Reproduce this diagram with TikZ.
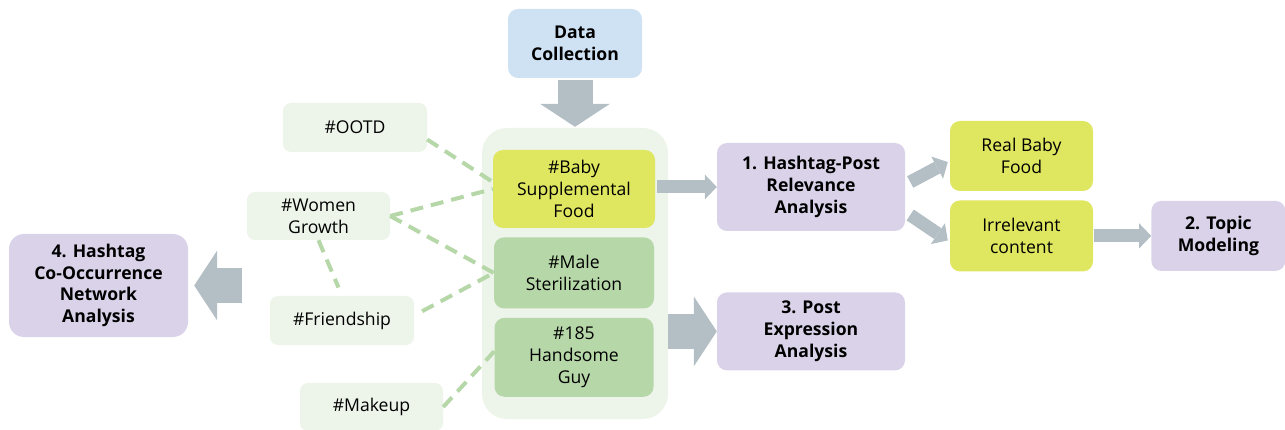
\documentclass[tikz,border=0pt]{standalone}
\usepackage{fontspec}
\setmainfont{Open Sans}
\usetikzlibrary{positioning, arrows.meta}

\definecolor{collectblue}{HTML}{CFE2F3}
\definecolor{babyyellow}{HTML}{DFE660}
\definecolor{tagsgreen}{HTML}{B6D7A8}
\definecolor{palegreen}{HTML}{EDF4EA}
\definecolor{stagepurple}{HTML}{D9D2E9}
\definecolor{arrowgray}{HTML}{B4BFC5}

\begin{document}
\begin{tikzpicture}[x=1pt, y=1pt,
        box/.style={rounded corners=10pt, inner sep=0pt, align=center,
            font=\fontsize{17.6}{21.8}\selectfont},
        stage/.style={box, fill=stagepurple, font=\fontsize{17.6}{21.8}\selectfont\bfseries},
        hashtag/.style={box, fill=tagsgreen},
        outcome/.style={box, fill=babyyellow, minimum width=143pt, minimum height=70pt},
        cotag/.style={box, fill=palegreen, rounded corners=8pt, minimum width=144pt, minimum height=49pt},
        shaft/.style={arrowgray, line width=13pt, -{Triangle[length=12pt, width=25pt, line width=0pt]}},
        bigshaft/.style={arrowgray, line width=35pt, -{Triangle[length=23pt, width=70pt, line width=0pt]}},
        cooccur/.style={tagsgreen, line width=4pt, dash pattern=on 13pt off 8pt}]
        \useasboundingbox (0,0) rectangle (1285,-430);
        % hashtag pool
        \node[box, fill=palegreen, rounded corners=25pt, minimum width=186pt, minimum height=291pt] (pool) at (575,-273.5) {};
        \node[box, fill=collectblue, font=\fontsize{17.6}{21.8}\selectfont\bfseries, minimum width=134pt, minimum height=69pt] (data) at (575,-43.5) {Data\\Collection};
        \node[hashtag, fill=babyyellow, minimum width=162pt, minimum height=78pt] (baby) at (574,-189) {\#Baby\\Supplemental\\Food};
        \node[hashtag, minimum width=160pt, minimum height=71pt] (male) [below=9pt of baby] {\#Male\\Sterilization};
        \node[hashtag, minimum width=159pt, minimum height=79pt] (h185) [below=9pt of male] {\#185\\Handsome\\Guy};
        % analysis stages
        \node[stage, minimum width=188pt, minimum height=88pt] (hp) at (811,-187) {1. Hashtag-Post\\Relevance\\Analysis};
        \node[stage, minimum width=188pt, minimum height=78pt] (pe) [below=61pt of hp] {3. Post\\Expression\\Analysis};
        \node[outcome] (real) at (1021.5,-156) {Real Baby\\Food};
        \node[outcome, minimum height=71pt] (irr) [below=9pt of real] {Irrelevant\\content};
        \node[stage, minimum width=134pt, minimum height=70pt] (topic) [right=58pt of irr] {2. Topic\\Modeling};
        \node[stage, rounded corners=15pt, minimum width=179pt, minimum height=103pt] (net) at (98.5,-285.5) {4. Hashtag\\Co-Occurrence\\Network\\Analysis};
        % co-occurring hashtags
        \node[cotag] (ootd) at (355,-127.5) {\#OOTD};
        \node[cotag, minimum width=143pt, minimum height=48pt] (women) at (318.5,-216) {\#Women\\Growth};
        \node[cotag] (friend) at (342,-320.5) {\#Friendship};
        \node[cotag, minimum width=143pt, minimum height=48pt] (makeup) at (371.5,-407) {\#Makeup};
        \coordinate (netin) at (242,-285.5);
        \path[shaft]
                (baby.east |- hp.west) edge [shorten <=2pt] (hp.west)
                ([shift={(5,5)}]hp.east) edge ([shift={(-2,-6)}]real.west)
                ([shift={(5,-28)}]hp.east) edge ([shift={(-2,-4.5)}]irr.west)
                (irr) edge [shorten <=1pt] (topic);
        \path[bigshaft]
                (data) edge [shorten <=2pt, shorten >=1pt] (pool)
                (pool.east |- pe.west) edge (pe.west)
                (netin) edge [shorten >=6pt] (net);
        \path[cooccur]
                ([yshift=-12]ootd.east) edge ([yshift=7]baby.west)
                (women.east) edge (baby.west)
                (women.east) edge (male.west)
                (women.south) edge [shorten >=9pt] (friend.north)
                ([yshift=5]friend.east) edge [shorten <=9pt] (male.west)
                (makeup.east) edge ([yshift=6]h185.west);
    \end{tikzpicture}
\end{document}
